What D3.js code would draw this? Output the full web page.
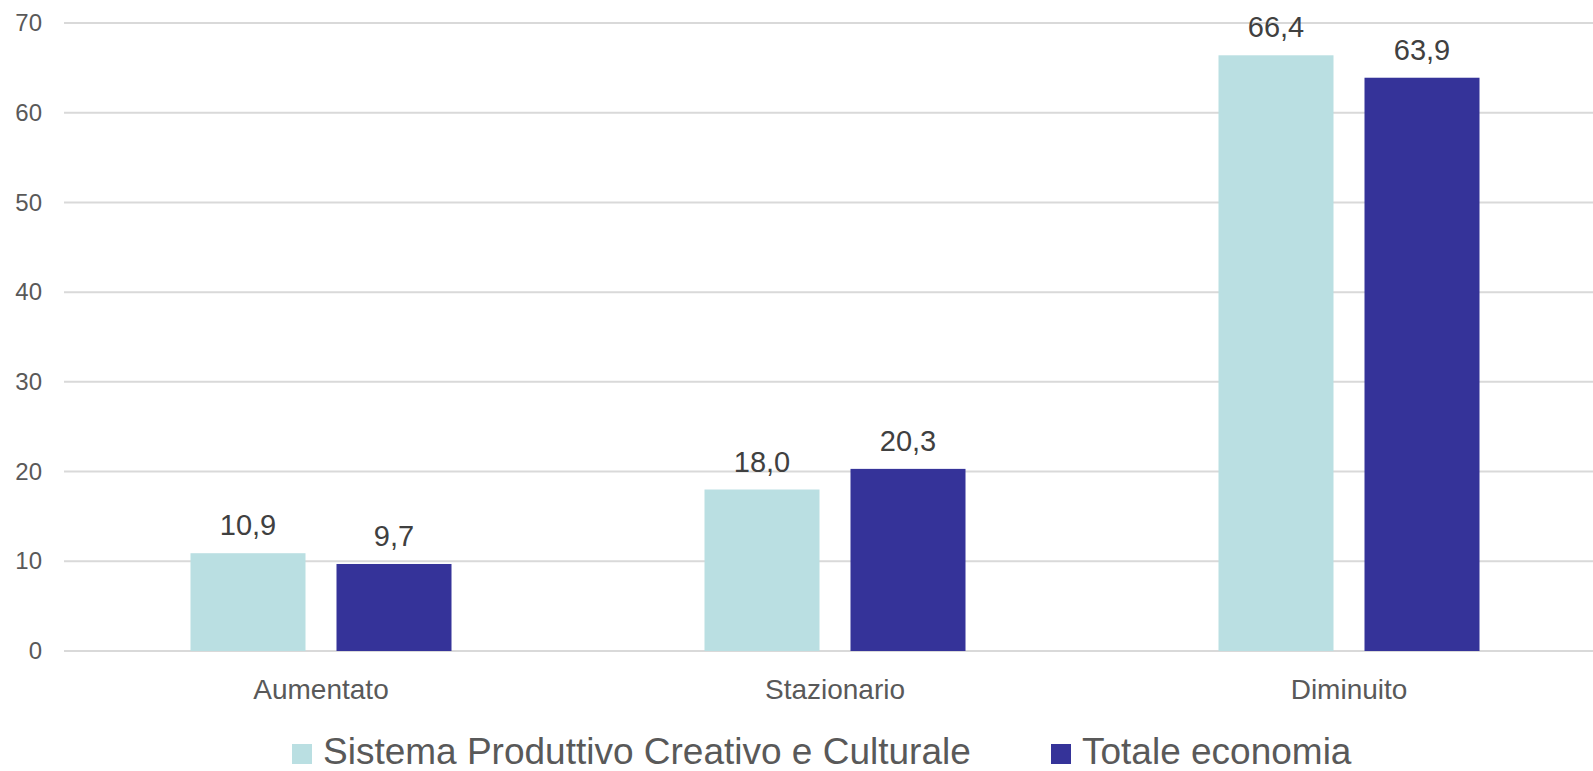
<!DOCTYPE html>
<html><head><meta charset="utf-8">
<script src="https://cdn.jsdelivr.net/npm/d3@7"></script>
<style>body{margin:0;background:#fff;}svg{display:block;font-family:"Liberation Sans",Arial,sans-serif;}</style>
</head><body>
<svg id="chart" width="1593" height="771"></svg>
<script>
const categories = ["Aumentato", "Stazionario", "Diminuito"];
const seriesNames = ["Sistema Produttivo Creativo e Culturale", "Totale economia"];
const seriesSPCC = [10.9, 18.0, 66.4];
const seriesTotale = [9.7, 20.3, 63.9];
const yTicks = [0, 10, 20, 30, 40, 50, 60, 70];
const colors = ["#BADFE2", "#353399"];

const svg = d3.select("#chart");
const x0 = d3.scaleBand().domain(categories).range([64, 1606]).paddingInner(0).paddingOuter(0);
const y = d3.scaleLinear().domain([0, 70]).range([651, 23]);

// gridlines
svg.append("g").selectAll("line").data(yTicks).join("line")
  .attr("x1", 64).attr("x2", 1606)
  .attr("y1", d => y(d)).attr("y2", d => y(d))
  .attr("stroke", "#D9D9D9").attr("stroke-width", 2);

// y axis labels
const yAxis = d3.axisLeft(y).tickValues(yTicks).tickSize(0).tickPadding(0).tickFormat(d3.format("d"));
const ya = svg.append("g").attr("transform", "translate(42,0)").call(yAxis);
ya.select(".domain").remove();
ya.selectAll("text").attr("font-size", 24).attr("fill", "#595959").attr("font-family", "Liberation Sans, Arial, sans-serif");

// bars
const bw = 115, gap = 31;
const data = categories.map((c, i) => ({cat: c, vals: [seriesSPCC[i], seriesTotale[i]]}));
const fmt = v => v.toFixed(1).replace(".", ",");
data.forEach(d => {
  const cx = x0(d.cat) + x0.bandwidth() / 2;
  d.vals.forEach((v, j) => {
    const bx = cx + (j === 0 ? -gap / 2 - bw : gap / 2);
    svg.append("rect").attr("x", bx).attr("y", y(v)).attr("width", bw).attr("height", y(0) - y(v))
      .attr("fill", colors[j]);
    svg.append("text").attr("x", bx + bw / 2).attr("y", y(v) - 18)
      .attr("text-anchor", "middle").attr("font-size", 29).attr("fill", "#404040").text(fmt(v));
  });
});

// x axis labels
const xAxis = d3.axisBottom(x0).tickSize(0).tickPadding(0);
const xa = svg.append("g").attr("transform", "translate(0,699)").call(xAxis);
xa.select(".domain").remove();
xa.selectAll("text").attr("font-size", 28).attr("fill", "#595959").attr("dy", 0)
  .attr("font-family", "Liberation Sans, Arial, sans-serif");

// legend
const leg = svg.append("g");
const legX = [292, 1051];
seriesNames.forEach((n, j) => {
  leg.append("rect").attr("x", legX[j]).attr("y", 744).attr("width", 20).attr("height", 20).attr("fill", colors[j]);
  leg.append("text").attr("x", legX[j] + 31).attr("y", 764).attr("font-size", 37).attr("fill", "#595959").text(n);
});
</script>
</body></html>
